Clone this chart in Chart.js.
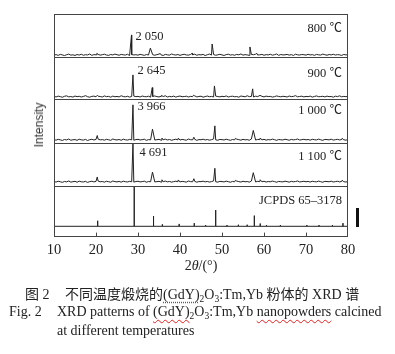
<!DOCTYPE html>
<html>
<head>
<meta charset="utf-8">
<script src="https://cdn.jsdelivr.net/npm/chart.js@4.4.1/dist/chart.umd.min.js"></script>
<style>
    html, body { margin: 0; padding: 0; background: #fff; }
    #fig { position: relative; width: 395px; height: 354px; overflow: hidden; color: #222;
        font-family: "Liberation Serif", "Noto Sans CJK SC", serif; }
    #fig canvas { position: absolute; left: 0; top: 0; }
    .abs { position: absolute; white-space: pre; line-height: 1; }
    .ylab { font: 12px "Liberation Sans", sans-serif; color: #333; left: 39px; top: 125px;
        transform: translate(-50%, -50%) rotate(-90deg); }
    .xlab { font-size: 14px; left: 201px; top: 266px; transform: translate(-50%, -50%); }
    .cap { font-size: 14px; }
    sub { font-size: 9.5px; vertical-align: -3px; line-height: 0; }
    .wavy { text-decoration: underline wavy #d22; text-decoration-thickness: 1px; text-underline-offset: 3px; }
    .dots { text-decoration: underline dotted #d22; text-underline-offset: 3px; }
    .bar { position: absolute; left: 356px; top: 208px; width: 3px; height: 19px; background: #111; }
</style>
</head>
<body>
<div id="fig">
    <canvas id="xrd" width="395" height="263"></canvas>
    <div class="abs ylab">Intensity</div>
    <div class="abs xlab">2<i>θ</i>/(°)</div>
    <div class="bar"></div>
    <div class="abs cap" style="left:25px; top:288px">图 2</div>
    <div class="abs cap" style="left:65px; top:288px">不同温度煅烧的<span class="dots">(GdY)</span><sub>2</sub>O<sub>3</sub>:Tm,Yb 粉体的 XRD 谱</div>
    <div class="abs cap" style="left:9px; top:305px">Fig. 2</div>
    <div class="abs cap" style="left:57px; top:305px">XRD patterns of <span class="wavy">(GdY)</span><sub>2</sub>O<sub>3</sub>:Tm,Yb <span class="wavy">nanopowders</span> calcined</div>
    <div class="abs cap" style="left:57px; top:324px">at different temperatures</div>
</div>
<script>
// scan points (2θ, degrees)
const twoTheta = [
    10, 10.5, 11, 11.5, 12, 12.5, 13, 13.5, 14, 14.5, 15, 15.5, 16, 16.5, 17, 17.5, 18, 18.5, 19, 19.5,
    20, 20.5, 21, 21.5, 22, 22.5, 23, 23.5, 24, 24.5, 25, 25.5, 26, 26.5, 27, 27.5, 28, 28.5, 29, 29.5,
    30, 30.5, 31, 31.5, 32, 32.5, 33, 33.5, 34, 34.5, 35, 35.5, 36, 36.5, 37, 37.5, 38, 38.5, 39, 39.5,
    40, 40.5, 41, 41.5, 42, 42.5, 43, 43.5, 44, 44.5, 45, 45.5, 46, 46.5, 47, 47.5, 48, 48.5, 49, 49.5,
    50, 50.5, 51, 51.5, 52, 52.5, 53, 53.5, 54, 54.5, 55, 55.5, 56, 56.5, 57, 57.5, 58, 58.5, 59, 59.5,
    60, 60.5, 61, 61.5, 62, 62.5, 63, 63.5, 64, 64.5, 65, 65.5, 66, 66.5, 67, 67.5, 68, 68.5, 69, 69.5,
    70, 70.5, 71, 71.5, 72, 72.5, 73, 73.5, 74, 74.5, 75, 75.5, 76, 76.5, 77, 77.5, 78, 78.5, 79, 79.5,
    80,
]

// background counts on the scan points
const bg800 = [
    140, 180, 110, 200, 150, 90, 170, 230, 130, 160, 100, 190, 140, 210, 120, 170, 150, 240, 110, 180,
    160, 200, 130, 170, 220, 140, 110, 190, 150, 230, 170, 120, 200, 160, 140, 210, 90, 180, 150, 170,
    130, 200, 160, 110, 190, 140, 220, 170, 120, 180, 230, 150, 100, 200, 160, 130, 240, 170, 140, 190,
    110, 170, 210, 150, 130, 190, 160, 220, 120, 180, 150, 200, 90, 170, 230, 140, 190, 120, 160, 210,
    150, 100, 180, 220, 140, 170, 120, 200, 160, 240, 130, 180, 150, 110, 190, 170, 220, 140, 160, 200,
    120, 180, 150, 210, 130, 170, 240, 110, 190, 150, 160, 200, 130, 180, 100, 220, 160, 140, 190, 170,
    130, 210, 150, 180, 110, 200, 160, 140, 230, 170, 120, 190, 150, 210, 140, 180, 160, 100, 200, 150,
    170,
]
const bg900 = [
    210, 160, 250, 190, 120, 230, 280, 170, 200, 140, 260, 190, 230, 150, 210, 300, 180, 130, 220, 250,
    170, 240, 200, 150, 270, 190, 220, 130, 250, 180, 210, 160, 290, 200, 170, 230, 140, 210, 250, 190,
    220, 150, 260, 200, 180, 240, 130, 210, 270, 190, 160, 230, 200, 290, 150, 220, 180, 250, 140, 210,
    260, 180, 200, 240, 150, 220, 190, 280, 160, 210, 240, 130, 200, 260, 180, 220, 150, 250, 200, 170,
    230, 190, 270, 150, 210, 240, 180, 200, 130, 260, 220, 170, 290, 190, 210, 150, 240, 200, 180, 230,
    160, 250, 200, 220, 140, 190, 270, 210, 170, 230, 200, 150, 260, 190, 220, 300, 170, 210, 240, 160,
    220, 190, 250, 140, 210, 270, 180, 200, 230, 160, 250, 190, 210, 130, 240, 200, 280, 170, 220, 190,
    210,
]
const bg1000 = [
    260, 210, 300, 240, 180, 280, 230, 330, 200, 250, 270, 190, 310, 240, 220, 290, 170, 260, 300, 230,
    280, 320, 240, 270, 210, 300, 250, 190, 330, 260, 230, 280, 200, 310, 250, 220, 290, 240, 200, 270,
    300, 230, 260, 310, 190, 270, 240, 340, 220, 260, 290, 210, 250, 320, 230, 280, 200, 260, 310, 240,
    220, 290, 250, 200, 330, 260, 240, 300, 190, 270, 250, 310, 230, 280, 210, 260, 340, 240, 200, 290,
    260, 230, 310, 250, 190, 280, 240, 320, 260, 210, 300, 240, 270, 200, 330, 250, 220, 290, 260, 240,
    300, 210, 270, 240, 320, 260, 190, 280, 250, 230, 310, 260, 200, 290, 240, 270, 330, 220, 260, 300,
    240, 280, 210, 300, 260, 230, 320, 250, 190, 290, 270, 240, 310, 220, 260, 300, 230, 280, 250, 210,
    270,
]
const bg1100 = [
    310, 260, 350, 290, 230, 330, 280, 380, 250, 300, 340, 240, 360, 290, 270, 340, 220, 310, 350, 280,
    330, 370, 290, 320, 250, 350, 300, 240, 380, 310, 280, 330, 250, 360, 300, 270, 340, 290, 250, 320,
    350, 280, 310, 360, 240, 320, 290, 390, 270, 310, 340, 260, 300, 370, 280, 330, 250, 310, 360, 290,
    270, 340, 300, 250, 380, 310, 290, 350, 240, 320, 300, 360, 280, 330, 260, 310, 390, 290, 250, 340,
    310, 280, 360, 300, 240, 330, 290, 370, 310, 260, 350, 290, 320, 250, 380, 300, 270, 340, 310, 290,
    350, 260, 320, 290, 370, 310, 240, 330, 300, 280, 360, 310, 250, 340, 290, 320, 380, 270, 310, 350,
    290, 330, 260, 350, 310, 280, 370, 300, 240, 340, 320, 290, 360, 270, 310, 350, 280, 330, 300, 260,
    320,
]

// diffraction peaks [2θ, counts]
const peaks800 = [[20.2, 300], [28.45, 2050], [32.95, 800], [35.3, 280], [42.9, 300], [47.65, 1190], [56.65, 910], [58.3, 300]]
const peaks900 = [[20.3, 340], [28.8, 2645], [33.4, 1210], [35.6, 330], [43.2, 340], [48.2, 1400], [57.3, 1070], [59.05, 330]]
const peaks1000 = [[20.3, 700], [28.8, 3966], [33.45, 1380], [35.7, 430], [39.6, 420], [43.3, 520], [48.3, 1730], [53.2, 400], [57.45, 1240], [59.1, 440], [78.6, 400]]
const peaks1100 = [[20.3, 840], [28.8, 4691], [33.45, 1400], [35.7, 520], [39.6, 500], [43.3, 640], [48.3, 1830], [53.2, 460], [57.45, 1330], [59.1, 520], [78.6, 460]]

// JCPDS 65-3178 reference lines
const jcpdsPos = [20.4, 29.1, 33.7, 35.8, 39.8, 43.4, 46.1, 48.5, 51.2, 53.9, 56.0, 57.7, 59.1, 60.6, 63.9, 70.2, 73.1, 76.3, 78.8]
const jcpdsInt = [14, 100, 26, 5, 6, 8, 3, 41, 3, 4, 4, 27, 7, 3, 3, 3, 3, 3, 8]

const panelLabels = ["800 ℃", "900 ℃", "1 000 ℃", "1 100 ℃", "JCPDS 65–3178"]
const peakLabels = ["2 050", "2 645", "3 966", "4 691"]
const xTicks = [10, 20, 30, 40, 50, 60, 70, 80]

const spectrum = (bg, peaks) => {
    const pts = twoTheta
        .map((x, i) => ({ x, y: bg[i] }))
        .filter((p) => !peaks.some(([px]) => Math.abs(px - p.x) < 0.05))
    peaks.forEach(([x, y]) => pts.push({ x, y }))
    return pts.sort((a, b) => a.x - b.x)
}

const sticks = [{ x: 10, y: 0 }]
jcpdsPos.forEach((p, i) => {
    sticks.push({ x: p, y: 0 }, { x: p, y: jcpdsInt[i] }, { x: p, y: 0 })
})
sticks.push({ x: 80, y: 0 })

const series = [
    spectrum(bg800, peaks800),
    spectrum(bg900, peaks900),
    spectrum(bg1000, peaks1000),
    spectrum(bg1100, peaks1100),
    sticks,
]
const mainPeaks = [peaks800[1], peaks900[1], peaks1000[1], peaks1100[1]]

// panel heights and ranges so the traces sit like the printed figure
const panelWeights = [43, 42, 44, 43, 51]
const panelRanges = [[-40, 4045], [-59, 4674], [-69, 4604], [-156, 4748], [-26, 102.6]]
const labelDy = [15, 17, 12, 14, 15]
const peakDy = [23, 14, 8, 10]
const peakDx = [4, 4.5, 4.5, 6.5]

const LABEL_FONT = '12.5px "Liberation Serif", "Noto Sans CJK SC", serif'

const frames = {
    id: "frames",
    afterDatasetsDraw(chart) {
        const { ctx, chartArea: a, scales } = chart
        ctx.save()
        ctx.strokeStyle = "#444"
        ctx.lineWidth = 1
        ctx.strokeRect(Math.round(a.left) + 0.5, Math.round(a.top) + 0.5, Math.round(a.width) - 1, Math.round(a.height) - 1)
        ctx.beginPath()
        for (let i = 1; i < 5; i++) {
            const y = Math.round(scales["y" + i].top) + 0.5
            ctx.moveTo(a.left, y)
            ctx.lineTo(a.right, y)
        }
        xTicks.slice(1, -1).forEach((v) => {
            const x = Math.round(scales.x.getPixelForValue(v)) + 0.5
            ctx.moveTo(x, a.bottom)
            ctx.lineTo(x, a.bottom - 4)
        })
        ctx.stroke()

        ctx.font = LABEL_FONT
        ctx.fillStyle = "#222"
        ctx.textBaseline = "middle"
        ctx.textAlign = "right"
        panelLabels.forEach((txt, i) => {
            ctx.fillText(txt, a.right - 6, scales["y" + i].top + labelDy[i])
        })
        ctx.textAlign = "left"
        peakLabels.forEach((txt, i) => {
            const x = scales.x.getPixelForValue(mainPeaks[i][0]) + peakDx[i]
            ctx.fillText(txt, x, scales["y" + i].top + peakDy[i])
        })
        ctx.restore()
    },
}

// stacked axes are laid out bottom-up, so add the lowest panel first
const yScales = {}
for (let i = panelWeights.length - 1; i >= 0; i--) {
    yScales["y" + i] = {
        type: "linear",
        position: "left",
        stack: "xrd",
        stackWeight: panelWeights[i],
        min: panelRanges[i][0],
        max: panelRanges[i][1],
        grid: { display: false, drawTicks: false },
        border: { display: false },
        ticks: { display: false },
    }
}

new Chart(document.getElementById("xrd"), {
    type: "line",
    data: {
        datasets: series.map((data, i) => ({
            label: panelLabels[i],
            data: data,
            yAxisID: "y" + i,
            borderColor: "#222",
            borderWidth: 1,
            pointRadius: 0,
            tension: 0,
        })),
    },
    options: {
        responsive: false,
        animation: false,
        devicePixelRatio: 1,
        layout: { padding: { left: 54, right: 47, top: 14, bottom: 0 } },
        plugins: {
            legend: { display: false },
            tooltip: { enabled: false },
        },
        scales: {
            x: {
                type: "linear",
                min: 10,
                max: 80,
                afterBuildTicks: (scale) => {
                    scale.ticks = xTicks.map((value) => ({ value }))
                },
                grid: { display: false, drawTicks: false },
                border: { display: false },
                ticks: {
                    color: "#222",
                    padding: 4.5,
                    maxRotation: 0,
                    autoSkip: false,
                    font: { family: '"Liberation Serif", serif', size: 14.5 },
                },
            },
            ...yScales,
        },
    },
    plugins: [frames],
})
</script>
</body>
</html>
